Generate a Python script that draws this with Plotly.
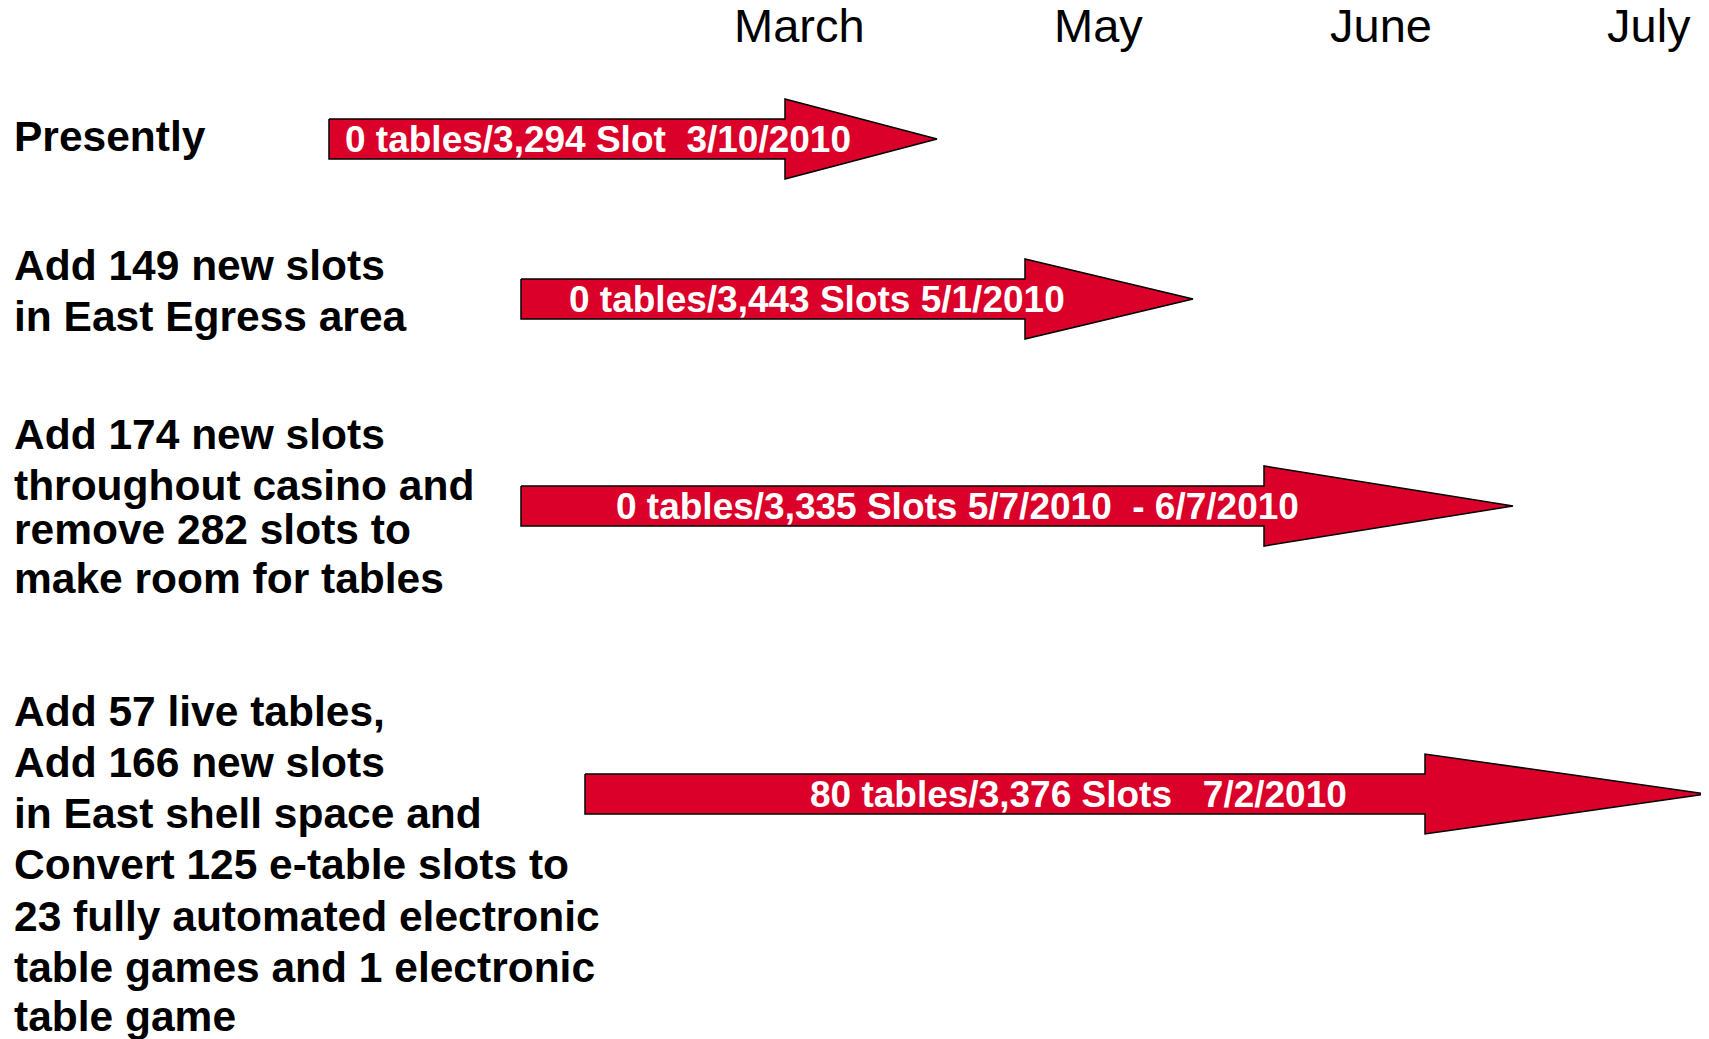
import plotly.graph_objects as go

# ---- data ----
months = ["March", "May", "June", "July"]
month_pos = [799, 1098, 1381, 1649]          # timeline units

row_y = [139, 299, 506, 794]                 # row centre (vertical units)
arrow_start = [329, 521, 521, 585]
arrow_head = [785, 1025, 1264, 1425]
arrow_tip = [937, 1193, 1513, 1706]
arrow_text = [
    "0 tables/3,294 Slot  3/10/2010",
    "0 tables/3,443 Slots 5/1/2010",
    "0 tables/3,335 Slots 5/7/2010  - 6/7/2010",
    "80 tables/3,376 Slots   7/2/2010",
]
arrow_text_x = [598, 817, 957, 1078]

row_label_lines = [
    ["Presently"],
    ["Add 149 new slots", "in East Egress area"],
    ["Add 174 new slots", "throughout casino and", "remove 282 slots to", "make room for tables"],
    ["Add 57 live tables,", "Add 166 new slots", "in East shell space and",
     "Convert 125 e-table slots to", "23 fully automated electronic",
     "table games and 1 electronic", "table game"],
]
row_label_line_y = [
    [136],
    [265, 316],
    [434, 485, 529, 578],
    [711, 762, 813, 864, 916, 967, 1016],
]

RED = "#DB0029"
FONT = "Liberation Sans, Arial, sans-serif"
SH = 20   # half shaft height
HH = 40   # half head height
PAGE_MARGIN = 8

fig = go.Figure()

for y, x0, xh, xt in zip(row_y, arrow_start, arrow_head, arrow_tip):
    xs = [x0, xh, xh, xt, xh, xh, x0, x0]
    ys = [y - SH, y - SH, y - HH, y, y + HH, y + SH, y + SH, y - SH]
    fig.add_trace(go.Scatter(x=xs, y=ys, mode="lines", fill="toself",
                             fillcolor=RED, line=dict(color="black", width=1.5),
                             hoverinfo="skip", showlegend=False))

annotations = []
for t, x, y in zip(arrow_text, arrow_text_x, row_y):
    annotations.append(dict(x=x, y=y, xref="x", yref="y", text=t, showarrow=False,
                            xanchor="center", yanchor="middle",
                            font=dict(family=FONT, size=37, color="white", weight="bold")))

for m, x in zip(months, month_pos):
    annotations.append(dict(x=x, y=25, xref="x", yref="y", text=m, showarrow=False,
                            xanchor="center", yanchor="middle",
                            font=dict(family=FONT, size=47, color="black")))

for lines, ys in zip(row_label_lines, row_label_line_y):
    for t, y in zip(lines, ys):
        annotations.append(dict(x=12, y=y, xref="x", yref="y", text=t, showarrow=False,
                                xanchor="left", yanchor="middle",
                                font=dict(family=FONT, size=42.5, color="black", weight="bold")))

W, H = 1709, 1039
fig.update_layout(
    width=W - PAGE_MARGIN, height=H - PAGE_MARGIN,
    margin=dict(l=0, r=0, t=0, b=0),
    paper_bgcolor="white", plot_bgcolor="white",
    xaxis=dict(range=[PAGE_MARGIN, W], visible=False, fixedrange=True),
    yaxis=dict(range=[H, PAGE_MARGIN], visible=False, fixedrange=True),
    annotations=annotations,
    showlegend=False,
)

fig.write_html("out.html")
